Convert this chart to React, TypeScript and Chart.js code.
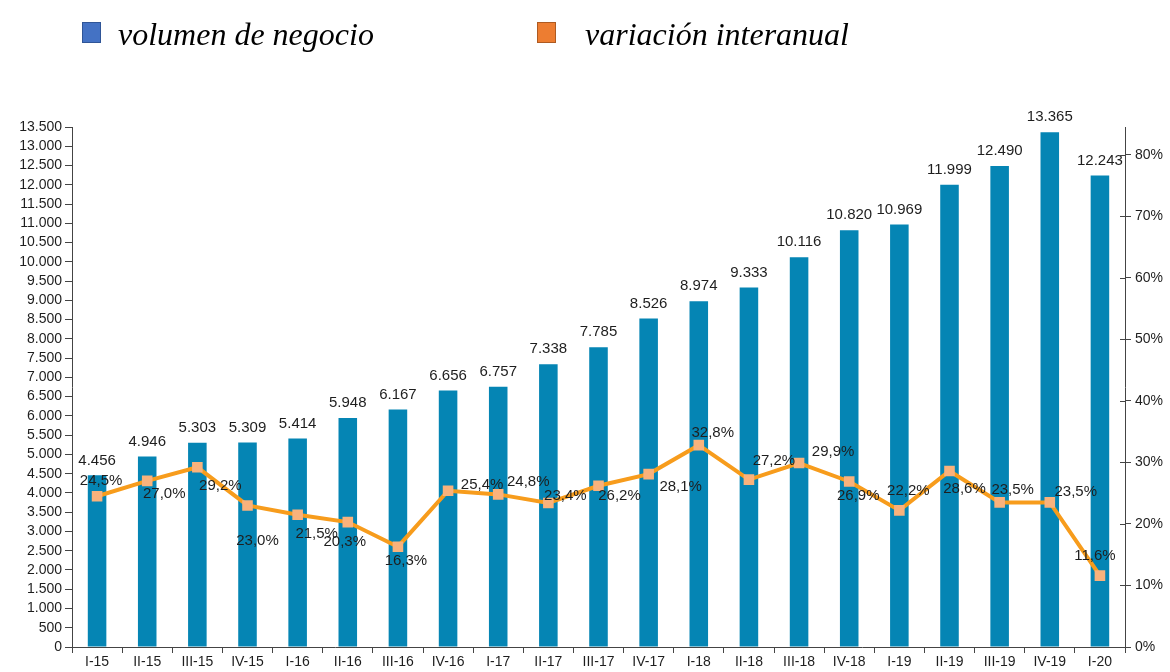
import React, { useEffect, useRef } from "react";
import { Chart, registerables } from "chart.js";

Chart.register(...registerables);

const categories = ["I-15","II-15","III-15","IV-15","I-16","II-16","III-16","IV-16","I-17","II-17","III-17","IV-17","I-18","II-18","III-18","IV-18","I-19","II-19","III-19","IV-19","I-20"];
const volumen = [4456,4946,5303,5309,5414,5948,6167,6656,6757,7338,7785,8526,8974,9333,10116,10820,10969,11999,12490,13365,12243];
const variacion = [24.5,27.0,29.2,23.0,21.5,20.3,16.3,25.4,24.8,23.4,26.2,28.1,32.8,27.2,29.9,26.9,22.2,28.6,23.5,23.5,11.6];

const legendLabels = ["volumen de negocio", "variación interanual"];

// label placement (text centre relative to point), styling only
const lineLabelOffsets: [number, number][] = [
  [4,-15],[17,13],[23,19],[10,35],[19,19],[-3,20],[8,14],[34,-6],[30,-13],[17,-7],
  [21,10],[32,13],[14,-12],[25,-19],[34,-11],[9,14],[9,-20],[15,18],[13,-13],[26,-11],[-5,-20]
];

const BAR = "#0585b4";
const LINE = "#f79c1c";
const MARK = "#f9b27c";

const fmtThousands = (v: number) => String(v).replace(/\B(?=(\d{3})+(?!\d))/g, ".");
const fmtPct = (v: number) => v.toFixed(1).replace(".", ",") + "%";

const labelPlugin = {
  id: "valueLabels",
  afterDatasetsDraw(chart: any) {
    const ctx = chart.ctx;
    ctx.save();
    ctx.font = "15px 'Liberation Sans', Arial, sans-serif";
    ctx.fillStyle = "#1e1e1e";
    ctx.textAlign = "center";
    ctx.textBaseline = "middle";
    const barMeta = chart.getDatasetMeta(0);
    barMeta.data.forEach((el: any, i: number) => {
      ctx.fillText(fmtThousands(volumen[i]), el.x, el.y - 15);
    });
    const lineMeta = chart.getDatasetMeta(1);
    lineMeta.data.forEach((el: any, i: number) => {
      const [dx, dy] = lineLabelOffsets[i];
      ctx.fillText(fmtPct(variacion[i]), el.x + dx, el.y + dy);
    });
    // right axis crossing ticks
    const y1 = chart.scales.y1;
    ctx.strokeStyle = "#444";
    ctx.lineWidth = 1;
    y1.ticks.forEach((t: any) => {
      const yy = Math.round(y1.getPixelForValue(t.value)) + 0.5;
      ctx.beginPath();
      ctx.moveTo(y1.left - 5, yy);
      ctx.lineTo(y1.left, yy);
      ctx.stroke();
    });
    ctx.restore();
  },
};

export default function App() {
  const ref = useRef<HTMLCanvasElement | null>(null);
  useEffect(() => {
    if (!ref.current) return;
    const chart = new Chart(ref.current, {
      type: "bar",
      data: {
        labels: categories,
        datasets: [
          {
            type: "bar",
            label: legendLabels[0],
            data: volumen,
            backgroundColor: BAR,
            yAxisID: "y",
            barPercentage: 0.37,
            categoryPercentage: 1,
            order: 2,
          },
          {
            type: "line",
            label: legendLabels[1],
            data: variacion,
            borderColor: LINE,
            borderWidth: 4,
            backgroundColor: MARK,
            pointStyle: "rect",
            pointRadius: 7.5,
            pointBorderWidth: 0,
            pointBackgroundColor: MARK,
            yAxisID: "y1",
            tension: 0,
            order: 1,
          } as any,
        ],
      },
      options: {
        responsive: false,
        animation: false,
        layout: { padding: { top: 127, left: 0, right: 0, bottom: 0 } },
        plugins: { legend: { display: false }, tooltip: { enabled: false } },
        scales: {
          x: {
            grid: { drawOnChartArea: false, tickLength: 6, color: "#444", offset: true },
            border: { color: "#444" },
            ticks: {
              color: "#1e1e1e",
              font: { size: 14, family: "'Liberation Sans', Arial, sans-serif" },
              padding: 1,
              maxRotation: 0,
              autoSkip: false,
            },
            afterFit: (s: any) => { s.height = 25; },
          },
          y: {
            position: "left",
            min: 0,
            max: 13500,
            grid: { drawOnChartArea: false, tickLength: 7, color: "#444" },
            border: { color: "#444" },
            ticks: {
              stepSize: 500,
              autoSkip: false,
              color: "#1e1e1e",
              font: { size: 14, family: "'Liberation Sans', Arial, sans-serif" },
              padding: 3,
              callback: (v: any) => fmtThousands(Number(v)),
            },
            afterFit: (s: any) => { s.width = 72; },
          },
          y1: {
            position: "right",
            min: 0,
            max: 84.5,
            grid: { drawOnChartArea: false, tickLength: 6, color: "#444" },
            border: { color: "#444" },
            afterBuildTicks: (s: any) => { s.ticks = s.ticks.filter((t: any) => t.value % 10 === 0); },
            ticks: {
              stepSize: 10,
              autoSkip: false,
              color: "#1e1e1e",
              font: { size: 14, family: "'Liberation Sans', Arial, sans-serif" },
              padding: 4,
              callback: (v: any) => v + "%",
            },
            afterFit: (s: any) => { s.width = 45; },
          },
        },
      },
      plugins: [labelPlugin],
    } as any);
    return () => chart.destroy();
  }, []);

  const legendText: React.CSSProperties = {
    position: "absolute",
    top: 14,
    fontFamily: "'Liberation Serif', 'Times New Roman', serif",
    fontStyle: "italic",
    fontSize: 32,
    color: "#000",
    whiteSpace: "nowrap",
    lineHeight: "40px",
  };
  const sq = (bg: string, border: string, left: number): React.CSSProperties => ({
    position: "absolute",
    left,
    top: 22,
    width: 17,
    height: 19,
    background: bg,
    border: `1px solid ${border}`,
  });

  return (
    <div style={{ position: "fixed", left: 0, top: 0, width: 1170, height: 672, background: "#fff" }}>
      <canvas ref={ref} width={1170} height={672} style={{ position: "absolute", left: 0, top: 0 }} />
      <div style={sq("#4472c4", "#2f5597", 82)} />
      <div style={{ ...legendText, left: 118 }}>{legendLabels[0]}</div>
      <div style={sq("#ed7d31", "#ae5a21", 537)} />
      <div style={{ ...legendText, left: 585 }}>{legendLabels[1]}</div>
    </div>
  );
}
